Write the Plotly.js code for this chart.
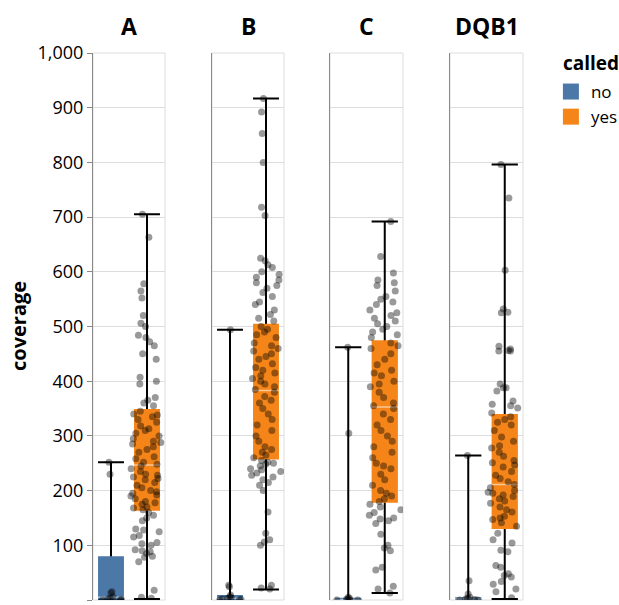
<!DOCTYPE html>
<html>
<head>
<meta charset="utf-8">
<script src="https://cdn.plot.ly/plotly-3.0.1.min.js"></script>
<style>html,body{margin:0;padding:0;background:#fff;overflow:hidden;}#chart{width:619px;height:605px;}</style>
</head>
<body>
<div id="chart"></div>
<script>
// ---- data ----
const genes = ['A', 'B', 'C', 'DQB1'];
const calledCats = ['no', 'yes'];

// box statistics (min-max whiskers)
const noMin = [0, 0, 0, 0];
const noQ1 = [1, 0, 0, 0];
const noMedian = [5, 3, 1, 2];
const noQ3 = [80, 9, 4, 5];
const noMax = [252, 494, 462, 264];

const yesMin = [2, 19, 13, 2];
const yesQ1 = [163, 257, 178, 130];
const yesMedian = [247, 383, 353, 211];
const yesQ3 = [349, 505, 475, 340];
const yesMax = [705, 917, 692, 796];

// individual observations
const ptsA_no = [252, 230, 15, 13, 6, 3, 2, 1, 0, 0];
const ptsA_yes = [705, 663, 578, 565, 552, 520, 506, 500, 484, 480, 472, 465, 450, 440, 407, 400, 395, 370, 365, 360, 355,
  345, 340, 338, 335, 330, 325, 318, 313, 310, 305, 300, 295, 290, 288, 285, 280, 275, 270, 262, 258, 252, 248, 245, 240,
  235, 230, 228, 225, 222, 220, 215, 210, 205, 200, 198, 195, 192, 190, 185, 180, 178, 175, 170, 168, 165,
  160, 155, 150, 145, 130, 128, 125, 118, 115, 105, 103, 100, 92, 90, 88, 85, 80, 78, 70, 18, 5, 3];
const ptsB_no = [494, 27, 24, 9, 6, 4, 3, 2, 1, 0, 0];
const ptsB_yes = [917, 892, 853, 800, 718, 703, 625, 620, 613, 608, 600, 595, 590, 585, 580, 575, 570, 562, 555, 545, 540,
  530, 522, 515, 510, 500, 495, 490, 485, 480, 470, 465, 460, 455, 450, 445, 440, 432, 425, 420, 415, 410, 405, 400, 395,
  390, 385, 380, 372, 365, 360, 350, 340, 330, 320, 310, 300, 290, 280, 275, 270, 265, 260,
  255, 252, 250, 248, 245, 240, 238, 235, 232, 228, 225, 220, 215, 210, 200, 161, 122, 110, 106, 100, 27, 22, 20];
const ptsC_no = [462, 305, 5, 3, 2, 1, 0, 0, 0];
const ptsC_yes = [692, 628, 598, 585, 580, 575, 565, 555, 550, 545, 540, 530, 525, 520, 515, 510, 505, 500, 495, 490, 485, 480,
  470, 465, 460, 450, 440, 430, 420, 415, 410, 400, 395, 390, 380, 370, 360, 355, 350, 340, 330, 320, 310, 300, 290, 280,
  270, 260, 250, 245, 240, 230, 220, 210, 200, 195, 190, 185, 180,
  175, 170, 165, 160, 155, 150, 148, 145, 140, 120, 100, 95, 90, 60, 55, 25, 20, 13];
const ptsD_no = [264, 35, 11, 5, 3, 2, 1, 0, 0];
const ptsD_yes = [796, 735, 603, 532, 526, 525, 464, 459, 456, 455, 455, 395, 388, 388, 382, 364, 358, 355, 351, 342,
  335, 330, 325, 320, 310, 298, 290, 282, 278, 270, 263, 255, 251, 247, 243, 235, 228, 222, 216, 211, 205, 200, 197, 195,
  192, 189, 185, 181, 177, 170, 165, 161, 153, 150, 147, 141, 135,
  122, 110, 104, 91, 88, 63, 60, 48, 45, 42, 34, 29, 20, 15, 4];

const yTicks = [0, 100, 200, 300, 400, 500, 600, 700, 800, 900, 1000];

// ---- style ----
const colors = {no: '#4c78a8', yes: '#f58518'};
const FONT = '"Open Sans", "Noto Sans", sans-serif';
const W = 619, H = 605, MT = 53, MB = 5;
const PH = H - MT - MB;
const panelPx = [[93, 165], [212, 284], [330, 403], [450, 523]];
const pyPaper = px => (H - MB - px) / PH;

const points = [[ptsA_no, ptsA_yes], [ptsB_no, ptsB_yes], [ptsC_no, ptsC_yes], [ptsD_no, ptsD_yes]];
const stats = {
  no: {min: noMin, q1: noQ1, med: noMedian, q3: noQ3, max: noMax},
  yes: {min: yesMin, q1: yesQ1, med: yesMedian, q3: yesQ3, max: yesMax}
};

const traces = [];
const layout = {
  width: W, height: H,
  margin: {l: 0, r: 0, t: MT, b: MB, pad: 0, autoexpand: false},
  paper_bgcolor: '#fff', plot_bgcolor: 'rgba(0,0,0,0)',
  font: {family: FONT, size: 17, color: '#000'},
  showlegend: true,
  boxmode: 'overlay',
  legend: {
    x: 0.890, xanchor: 'left', y: pyPaper(74), yanchor: 'top',
    font: {family: FONT, size: 17, color: '#000'},
    tracegroupgap: 0, itemclick: false, itemdoubleclick: false,
    bgcolor: 'rgba(0,0,0,0)', borderwidth: 0
  },
  shapes: [], annotations: []
};

genes.forEach((g, i) => {
  const xs = i === 0 ? 'x' : 'x' + (i + 1);
  const ys = i === 0 ? 'y' : 'y' + (i + 1);
  const xk = i === 0 ? 'xaxis' : 'xaxis' + (i + 1);
  const yk = i === 0 ? 'yaxis' : 'yaxis' + (i + 1);
  layout[xk] = {
    domain: [panelPx[i][0] / W, panelPx[i][1] / W],
    anchor: ys, type: 'category', categoryorder: 'array', categoryarray: calledCats,
    range: [-0.5, 1.5], showticklabels: false, showgrid: false, zeroline: false,
    showline: false, ticks: '', fixedrange: true, automargin: false
  };
  layout[yk] = {
    domain: [0, 1], anchor: xs, range: [0, 1000], tickvals: yTicks, tickformat: ',',
    showgrid: true, gridcolor: '#ddd', gridwidth: 1, zeroline: false,
    showline: true, linecolor: '#888', linewidth: 1,
    ticks: i === 0 ? 'outside' : '', ticklen: 5, tickcolor: '#888', tickwidth: 1,
    showticklabels: i === 0, tickfont: {family: FONT, size: 18, color: '#000'},
    fixedrange: true, automargin: false
  };
  // panel frame
  layout.shapes.push({type: 'rect', xref: xs + ' domain', yref: ys + ' domain', x0: 0, x1: 1, y0: 0, y1: 1,
    line: {color: '#ddd', width: 1}, layer: 'below'});
  // facet header
  layout.annotations.push({text: '<b>' + g + '</b>', xref: xs + ' domain', yref: 'paper', x: 0.5, y: pyPaper(26),
    xanchor: 'center', yanchor: 'middle', showarrow: false, font: {family: FONT, size: 23, color: '#000'}});

  calledCats.forEach((c, j) => {
    const s = stats[c];
    // whiskers with caps (min..max)
    traces.push({type: 'box', xaxis: xs, yaxis: ys, x: [c], q1: [s.min[i]], median: [s.min[i]], q3: [s.min[i]],
      lowerfence: [s.min[i]], upperfence: [s.max[i]], width: 0.72, whiskerwidth: 1,
      line: {color: '#000', width: 2}, fillcolor: 'rgba(0,0,0,0)', showlegend: false, hoverinfo: 'skip'});
    // box body
    traces.push({type: 'box', xaxis: xs, yaxis: ys, x: [c], q1: [s.q1[i]], median: [s.med[i]], q3: [s.q3[i]],
      lowerfence: [s.q1[i]], upperfence: [s.q3[i]], width: 0.72, whiskerwidth: 0,
      line: {color: colors[c], width: 0}, fillcolor: colors[c], showlegend: false, hoverinfo: 'skip'});
    // median tick
    traces.push({type: 'box', xaxis: xs, yaxis: ys, x: [c], q1: [s.med[i]], median: [s.med[i]], q3: [s.med[i]],
      lowerfence: [s.med[i]], upperfence: [s.med[i]], width: 0.72, whiskerwidth: 0,
      line: {color: 'rgba(255,255,255,0.55)', width: 1.5}, fillcolor: 'rgba(0,0,0,0)', showlegend: false, hoverinfo: 'skip'});
  });
  calledCats.forEach((c, j) => {
    const v = points[i][j];
    traces.push({type: 'box', xaxis: xs, yaxis: ys, y: v, x: v.map(() => c), boxpoints: 'all', jitter: 1, pointpos: 0,
      width: 1.0, line: {color: 'rgba(0,0,0,0)', width: 0}, fillcolor: 'rgba(0,0,0,0)',
      marker: {color: 'rgba(0,0,0,0.4)', size: 7, line: {width: 0}}, showlegend: false, hoveron: 'points'});
  });
});

// legend entries
calledCats.forEach(c => {
  traces.push({type: 'scatter', mode: 'markers', x: [null], y: [null], name: c,
    marker: {symbol: 'square', size: 19, color: colors[c], line: {width: 0}}, showlegend: true, hoverinfo: 'skip'});
});

// legend title
layout.annotations.push({text: '<b>called</b>', xref: 'paper', yref: 'paper', x: 561 / W, y: pyPaper(63),
  xanchor: 'left', yanchor: 'middle', showarrow: false, font: {family: FONT, size: 19, color: '#000'}});

// y-axis title
layout.annotations.push({text: '<b>coverage</b>', xref: 'paper', yref: 'paper', x: 18 / W, y: pyPaper(326),
  xanchor: 'center', yanchor: 'middle', textangle: -90, showarrow: false,
  font: {family: FONT, size: 20, color: '#000'}});

Plotly.newPlot('chart', traces, layout, {displayModeBar: false, staticPlot: true});
</script>
</body>
</html>
